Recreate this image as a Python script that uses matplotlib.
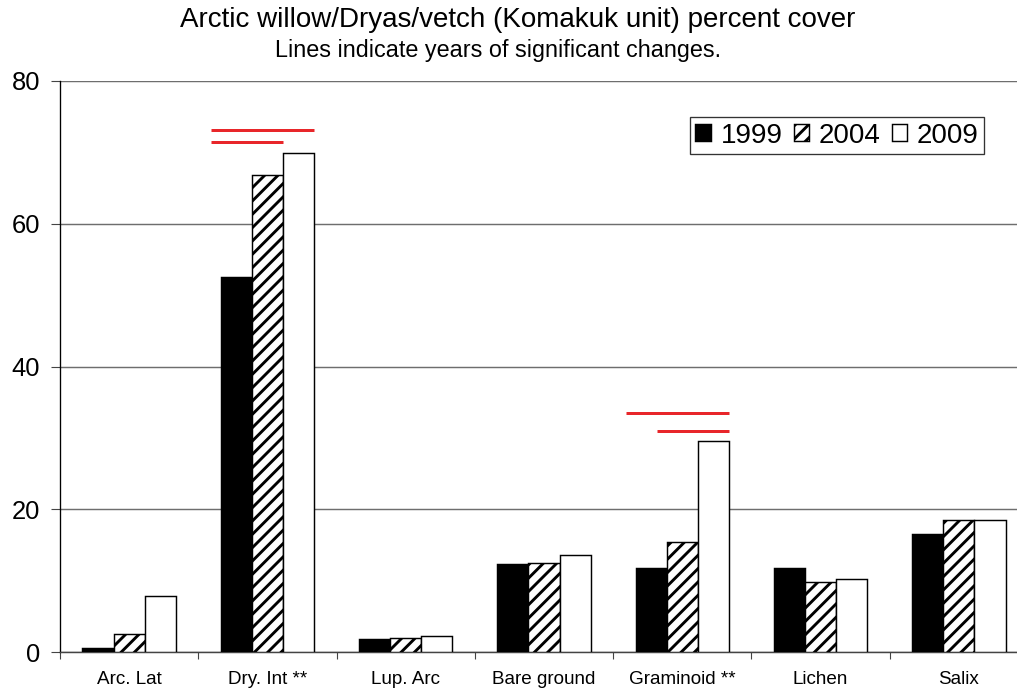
import matplotlib
matplotlib.use("Agg")
import matplotlib.pyplot as plt
import numpy as np

plt.rcParams["font.family"] = ["Liberation Sans", "DejaVu Sans"]
plt.rcParams["hatch.linewidth"] = 2.6

categories = ["Arc. Lat", "Dry. Int **", "Lup. Arc", "Bare ground",
              "Graminoid **", "Lichen", "Salix"]
years = ["1999", "2004", "2009"]
cover_1999 = [0.5, 52.5, 1.8, 12.3, 11.8, 11.8, 16.5]
cover_2004 = [2.5, 66.8, 2.0, 12.5, 15.4, 9.8, 18.45]
cover_2009 = [7.8, 69.9, 2.3, 13.6, 29.5, 10.2, 18.45]

# significant change lines: (category index, first year idx, last year idx, height)
sig_lines = [
    (1, 0, 2, 73.2),
    (1, 0, 1, 71.4),
    (4, 0, 2, 33.5),
    (4, 1, 2, 31.0),
]

DPI = 80
W, H = 1017, 690
fig = plt.figure(figsize=(W / DPI, H / DPI), dpi=DPI)
ax = fig.add_axes([60 / W, 38 / H, 968 / W, 571 / H])

x = np.arange(len(categories))
bw = 0.225
styles = [
    dict(color="black", edgecolor="black"),
    dict(color="white", edgecolor="black", hatch="//"),
    dict(color="white", edgecolor="black"),
]
series = [cover_1999, cover_2004, cover_2009]
handles = []
for i, (vals, st) in enumerate(zip(series, styles)):
    b = ax.bar(x + (i - 1) * bw, vals, bw, linewidth=1.3, zorder=3,
               label=years[i], **st)
    handles.append(b)

for cat, y0, y1, h in sig_lines:
    xs = x[cat] + (y0 - 1) * bw - bw / 2 - 0.068
    xe = x[cat] + (y1 - 1) * bw + bw / 2
    ax.plot([xs, xe], [h, h], color="#e8262a", linewidth=2.7,
            solid_capstyle="butt", zorder=4)

ax.set_xlim(-0.5, len(categories) - 0.5)
ax.set_ylim(0, 80)
ax.set_yticks([0, 20, 40, 60, 80])
ax.yaxis.grid(True, color="#6e6e6e", linewidth=1.3)
ax.set_axisbelow(True)
ax.set_xticks(x)
ax.set_xticklabels(categories, fontsize=17)
ax.set_xticks(np.arange(-0.5, len(categories), 1.0), minor=True)
ax.tick_params(axis="x", which="major", length=0, pad=17)
ax.tick_params(axis="x", which="minor", length=6, width=1.0, direction="out",
               color="#444444")
ax.tick_params(axis="y", length=8, width=1.0, labelsize=23, pad=10,
               color="#444444")
ax.spines["top"].set_visible(False)
ax.spines["right"].set_visible(False)
ax.spines["left"].set_linewidth(1.2)
ax.spines["bottom"].set_color("#444444")
ax.spines["bottom"].set_linewidth(1.3)

leg = fig.legend(handles=handles, labels=years, loc="upper right",
                 bbox_to_anchor=(984 / W, 1 - 117 / H), ncol=3,
                 fontsize=25, frameon=True, fancybox=False, shadow=False,
                 handlelength=0.55, handleheight=0.55, handletextpad=0.35,
                 columnspacing=0.4, borderpad=0.2, borderaxespad=0)
leg.get_frame().set_edgecolor("black")
leg.get_frame().set_linewidth(1.2)

fig.text(0.509, 1 - 20 / H, "Arctic willow/Dryas/vetch (Komakuk unit) percent cover",
         ha="center", va="center", fontsize=25)
fig.text(0.49, 1 - 51 / H, "Lines indicate years of significant changes.",
         ha="center", va="center", fontsize=21)

fig.savefig("out.png", dpi=DPI)
